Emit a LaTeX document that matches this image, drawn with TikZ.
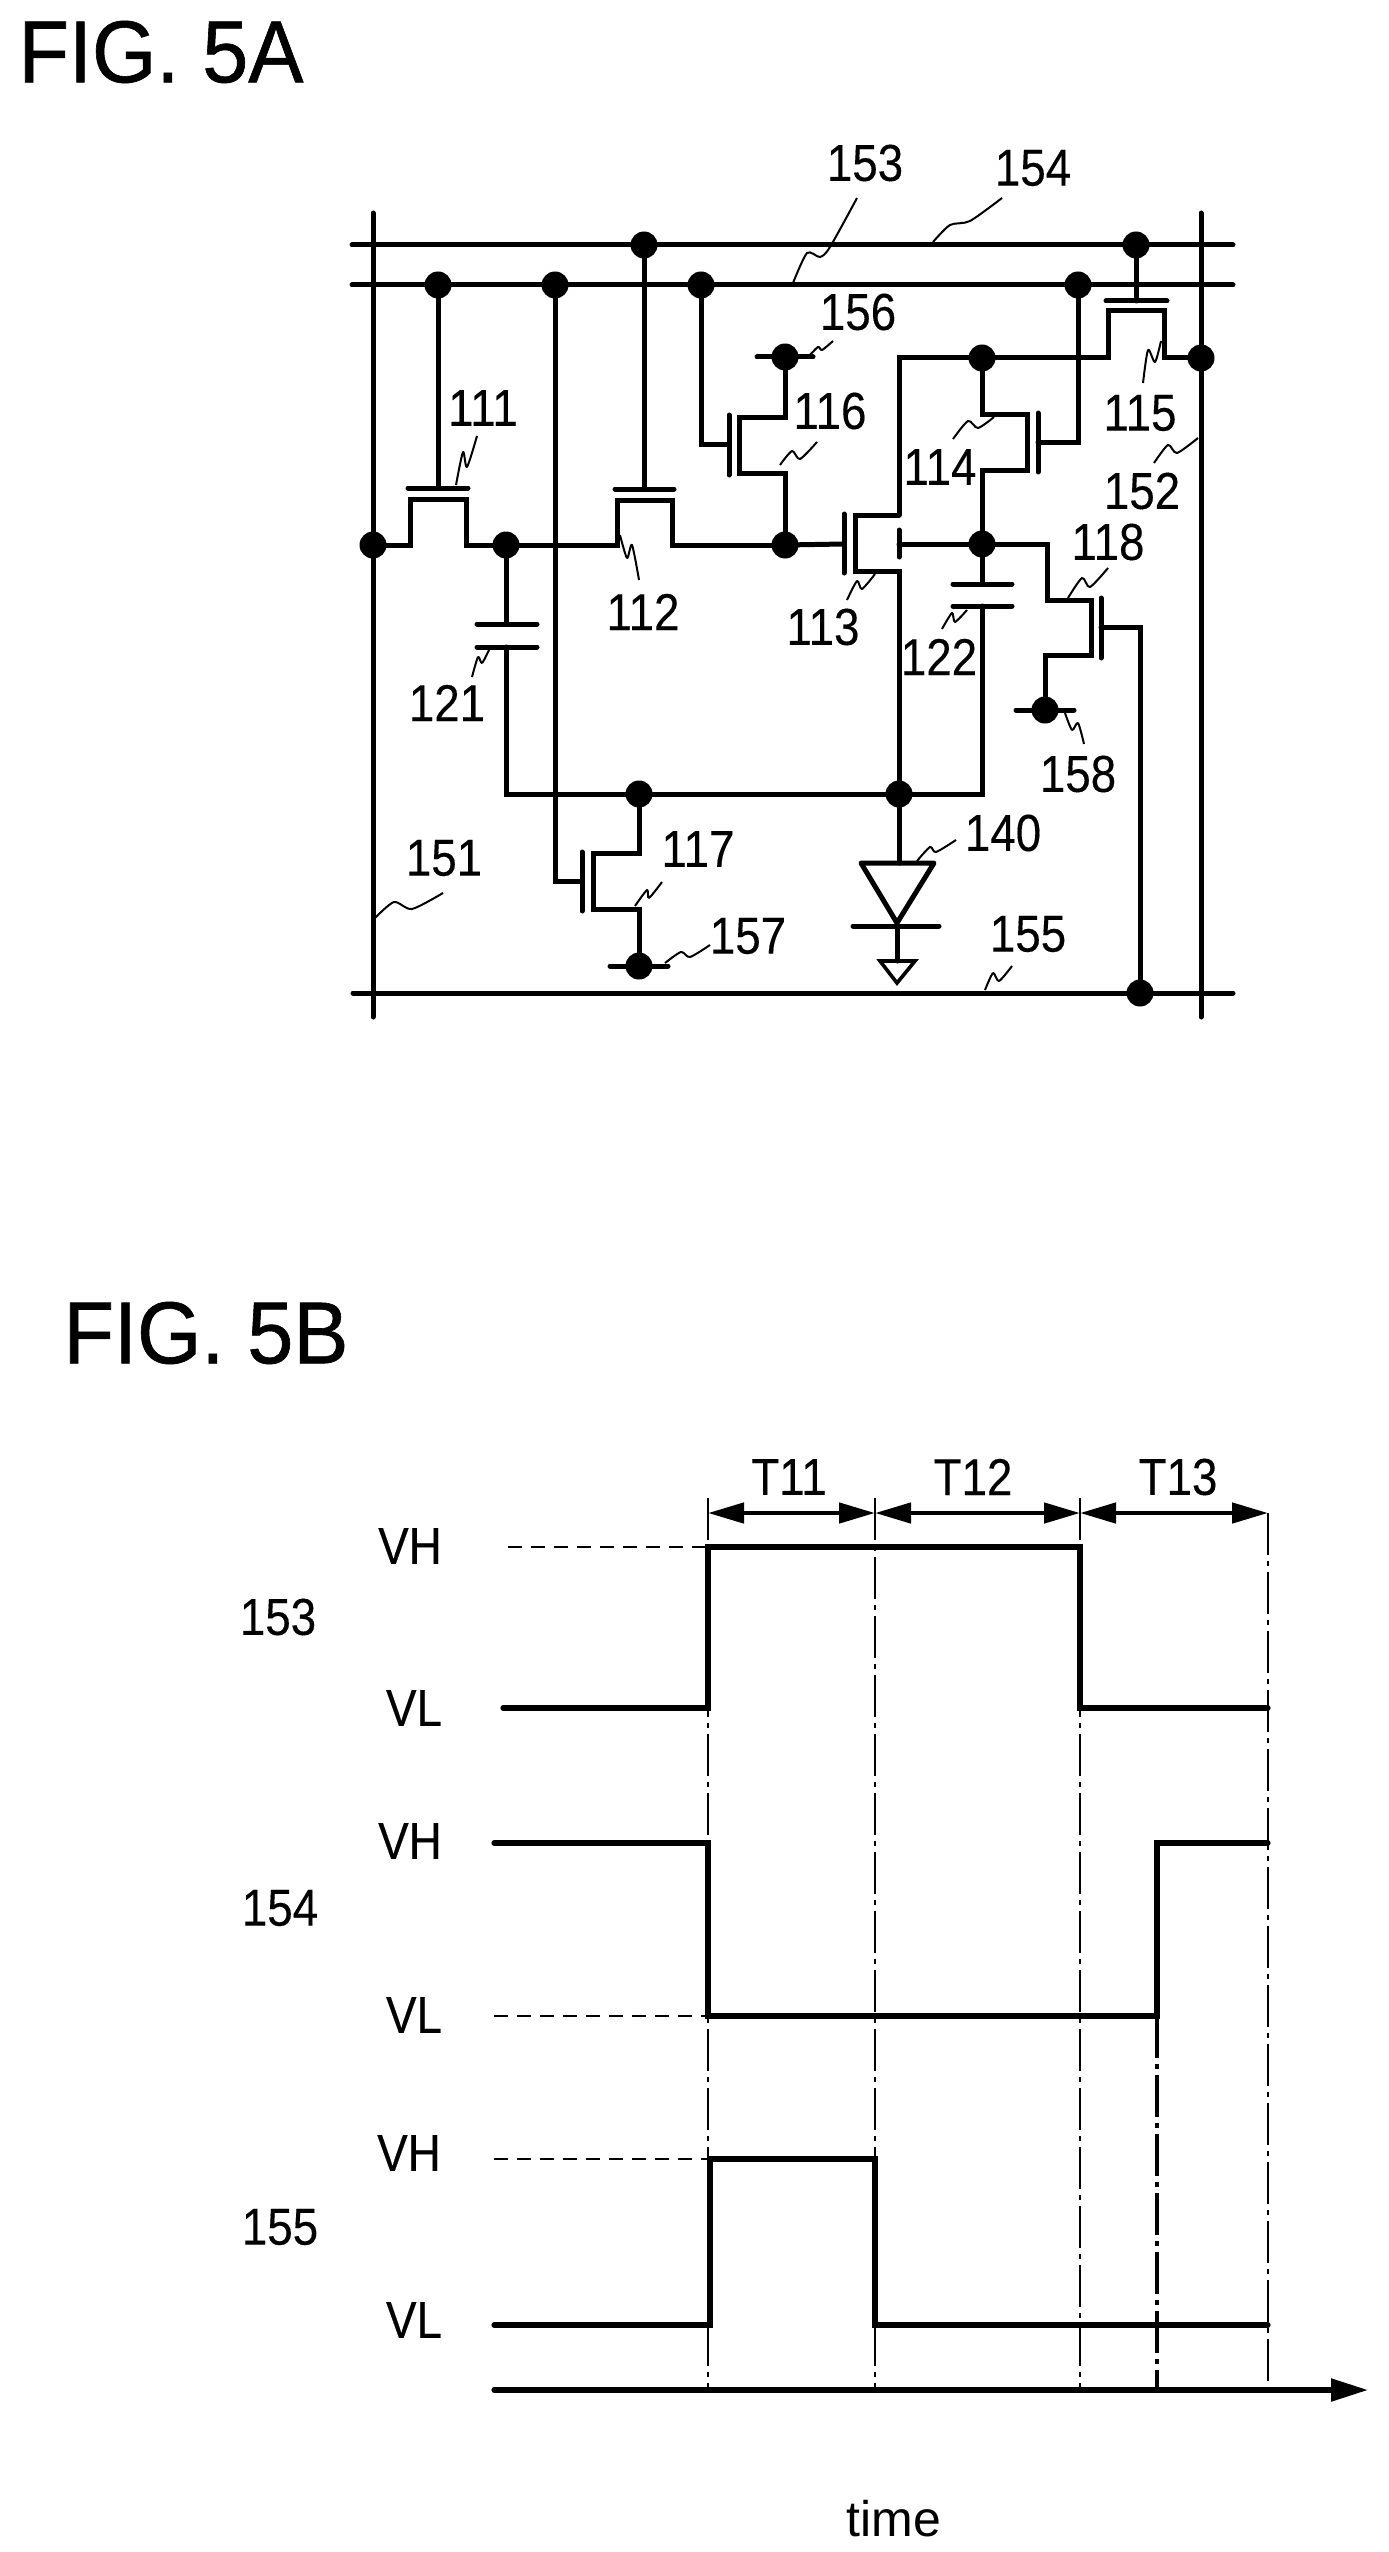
\documentclass[tikz,border=0pt]{standalone}
\usepackage{fontspec}
\setmainfont[FakeStretch=0.88,FakeBold=0.25]{Liberation Sans}
\newfontfamily\plainf{Liberation Sans}
\newfontfamily\titlef[FakeStretch=0.94,FakeBold=0.7]{Liberation Sans}
\usetikzlibrary{arrows.meta}
\tikzset{
  wire/.style={line width=2.5pt,line cap=round,line join=miter,draw=black},
  jn/.style={circle,fill=black,inner sep=0pt,minimum size=13.5pt},
  sq/.style={line width=1pt,draw=black,line join=round},
  lbl/.style={inner sep=0pt,font=\fontsize{26}{26}\selectfont},
  ttl/.style={inner sep=0pt,font=\titlef\fontsize{44}{44}\selectfont},
  tm/.style={inner sep=0pt,font=\plainf\fontsize{25}{25}\selectfont},
  wave/.style={line width=2.6pt,line cap=round,line join=miter,draw=black},
  lev/.style={line width=1.3pt,draw=black,dash pattern=on 7pt off 4.5pt},
  guide/.style={line width=1.3pt,draw=black,dash pattern=on 21pt off 3pt on 2.5pt off 3pt},
  span/.style={line width=2.3pt,draw=black,{Triangle[length=18pt,width=10pt]}-{Triangle[length=18pt,width=10pt]}},
  axis/.style={line width=2.6pt,line cap=round,draw=black,-{Triangle[length=18.5pt,width=11pt]}}
}
\newcommand{\squig}[1]{\draw[sq] plot[smooth,tension=0.45] coordinates {#1};}
\begin{document}
\begin{tikzpicture}[x=0.5pt,y=-0.5pt]
\useasboundingbox (0,0) rectangle (1388,2552);
\fill[white] (0,0) rectangle (1388,2552);
% ---------- FIG 5A: junctions
\node[jn] (dL) at (373,545) {};
\node[jn] (g111) at (438,285) {};
\node[jn] (g117) at (555,285) {};
\node[jn] (g112) at (644,245) {};
\node[jn] (g116) at (701,285) {};
\node[jn] (g114) at (1078,285) {};
\node[jn] (g115) at (1136,245) {};
\node[jn] (n1) at (506,545) {};
\node[jn] (n2) at (785,545) {};
\node[jn] (v156) at (785,357) {};
\node[jn] (n3) at (982,358) {};
\node[jn] (dR) at (1201,358) {};
\node[jn] (n4) at (982,544) {};
\node[jn] (v158) at (1045,710) {};
\node[jn] (n5) at (639,794) {};
\node[jn] (n6) at (899,794) {};
\node[jn] (v157) at (639,966) {};
\node[jn] (g118) at (1140,993) {};
% bus lines
\coordinate (h1a) at (352,245); \coordinate (h1b) at (1233,245);
\coordinate (h2a) at (352,285); \coordinate (h2b) at (1233,285);
\coordinate (h3a) at (353,993); \coordinate (h3b) at (1233,993);
\coordinate (v1a) at (373,213); \coordinate (v1b) at (373,1017);
\coordinate (v2a) at (1201,213); \coordinate (v2b) at (1201,1017);
\draw[wire] (h1a) -- (h1b);
\draw[wire] (h2a) -- (h2b);
\draw[wire] (h3a) -- (h3b);
\draw[wire] (v1a) -- (v1b);
\draw[wire] (v2a) -- (v2b);
% T111
\draw[wire] (g111.center) -- (438,488);
\draw[wire] (408,488) -- (468,488);
\draw[wire] (dL.center) -- (410,545) -- (410,499) -- (466,499) -- (466,545) -- (n1.center);
% T112
\draw[wire] (g112.center) -- (644,489);
\draw[wire] (615,489) -- (674,489);
\draw[wire] (n1.center) -- (617,545) -- (617,500) -- (672,500) -- (672,545) -- (n2.center);
% T116
\draw[wire] (g116.center) -- (701,444) -- (729,444);
\draw[wire] (729,415) -- (729,475);
\draw[wire] (v156.center) -- (785,417) -- (739,417) -- (739,473) -- (785,473) -- (n2.center);
\draw[wire] (757,357) -- (813,357);
% T115
\draw[wire] (g115.center) -- (1136,301);
\draw[wire] (1106,301) -- (1167,301);
\draw[wire] (899,515) -- (899,358) -- (n3.center) -- (1108,358) -- (1108,311) -- (1164,311) -- (1164,358) -- (dR.center);
% T114
\draw[wire] (g114.center) -- (1078,442) -- (1038,442);
\draw[wire] (1038,413) -- (1038,472);
\draw[wire] (n3.center) -- (982,414) -- (1027,414) -- (1027,470) -- (982,470) -- (n4.center);
% T113
\draw[wire] (n2.center) -- (844,544);
\draw[wire] (844,514) -- (844,573);
\draw[wire] (899,515) -- (855,515) -- (855,571) -- (899,571) -- (n6.center);
\draw[wire] (899,530) -- (899,557);
\draw[wire] (899,544) -- (n4.center);
% T118
\draw[wire] (n4.center) -- (1047,544) -- (1047,600) -- (1091,600) -- (1091,655) -- (1045,655) -- (v158.center);
\draw[wire] (1016,710) -- (1074,710);
\draw[wire] (1101,598) -- (1101,658);
\draw[wire] (1101,627) -- (1140,627) -- (g118.center);
% C122, C121
\draw[wire] (n4.center) -- (982,584);
\draw[wire] (953,584) -- (1012,584);
\draw[wire] (953,606) -- (1012,606);
\draw[wire] (982,606) -- (982,794) -- (n6.center) -- (n5.center) -- (506,794) -- (506,647);
\draw[wire] (477,647) -- (537,647);
\draw[wire] (477,624) -- (537,624);
\draw[wire] (n1.center) -- (506,624);
% T117
\draw[wire] (g117.center) -- (555,881) -- (582,881);
\draw[wire] (582,852) -- (582,911);
\draw[wire] (n5.center) -- (639,853) -- (593,853) -- (593,909) -- (639,909) -- (v157.center);
\draw[wire] (610,966) -- (668,966);
% diode and ground
\draw[wire] (n6.center) -- (899,863);
\draw[wire,line join=round] (861,863) -- (934,863) -- (897,923) -- cycle;
\draw[wire] (853,926) -- (939,926);
\draw[wire] (897,926) -- (897,961);
\draw[line width=1.8pt,draw=black,line join=miter] (880,961) -- (915,961) -- (897,983) -- cycle;
% callouts
\squig{(456,485) (463,452) (467,467) (477,436)}
\squig{(620,535) (627,558) (632,545) (639,580)}
\squig{(793,283) (807,253) (820,257) (830,247) (857,198)}
\squig{(933,242) (950,225) (970,221) (1002,198)}
\squig{(808,357) (818,347) (822,350) (833,341)}
\squig{(780,465) (792,451) (800,459) (817,442)}
\squig{(953,439) (968,421) (978,428) (994,417)}
\squig{(1143,383) (1148,350) (1155,362) (1161,341)}
\squig{(1154,463) (1168,445) (1177,453) (1198,438)}
\squig{(1068,598) (1082,578) (1090,587) (1108,568)}
\squig{(847,600) (857,581) (862,589) (875,574)}
\squig{(942,629) (952,613) (955,622) (967,610)}
\squig{(472,677) (478,657) (482,663) (489,650)}
\squig{(1065,713) (1072,730) (1078,723) (1084,744)}
\squig{(917,861) (930,847) (936,852) (956,840)}
\squig{(635,906) (647,890) (649,898) (662,882)}
\squig{(665,963) (681,952) (690,957) (710,945)}
\squig{(375,918) (394,902) (412,909) (443,893)}
\squig{(985,990) (993,973) (999,981) (1012,966)}
% labels 5A
\node[ttl] (figA) at (161,52) {FIG. 5A};
\node[lbl] (t153) at (865,163) {153};
\node[lbl] (t154) at (1033,168) {154};
\node[lbl] (t156) at (858,312) {156};
\node[lbl] (t116) at (830,411) {116};
\node[lbl] (t114) at (940,467) {114};
\node[lbl] (t115) at (1140,413) {115};
\node[lbl] (t152) at (1142,491) {152};
\node[lbl] (t118) at (1108,542) {118};
\node[lbl] (t113) at (823,627) {113};
\node[lbl] (t122) at (939,657) {122};
\node[lbl] (t121) at (447,703) {121};
\node[lbl] (t111) at (483,408) {111};
\node[lbl] (t112) at (643,612) {112};
\node[lbl] (t158) at (1078,774) {158};
\node[lbl] (t140) at (1003,833) {140};
\node[lbl] (t117) at (698,849) {117};
\node[lbl] (t157) at (748,936) {157};
\node[lbl] (t155) at (1028,934) {155};
\node[lbl] (t151) at (444,858) {151};
% ---------- FIG 5B
\node[ttl] (figB) at (206,1333) {FIG. 5B};
\coordinate (a) at (708,1498); \coordinate (b) at (875,1498);
\coordinate (c) at (1080,1498); \coordinate (d) at (1268,1513);
\coordinate (e) at (1157,2016);
\draw[guide] (a) -- (708,2390);
\draw[guide] (b) -- (875,2390);
\draw[guide] (c) -- (1080,2390);
\draw[guide] (d) -- (1268,2390);
\draw[guide,line width=1.6pt] (e) -- (1157,2390);
\coordinate (sa) at (708,1513); \coordinate (sb) at (875,1513);
\coordinate (sc) at (1080,1513); \coordinate (sd) at (1268,1513);
\draw[span] (sa) -- (sb);
\draw[span] (sb) -- (sc);
\draw[span] (sc) -- (sd);
\draw[lev] (508,1547) -- (708,1547);
\draw[lev] (494,2016) -- (708,2016);
\draw[lev] (494,2159) -- (708,2159);
\draw[wave] (503,1708) -- (708,1708) -- (708,1547) -- (1080,1547) -- (1080,1708) -- (1268,1708);
\draw[wave] (494,1843) -- (708,1843) -- (708,2016) -- (1157,2016) -- (1157,1843) -- (1268,1843);
\draw[wave] (494,2325) -- (710,2325) -- (710,2159) -- (875,2159) -- (875,2325) -- (1268,2325);
\coordinate (ax0) at (494,2390); \coordinate (ax1) at (1368,2390);
\draw[axis] (ax0) -- (ax1);
\node[lbl] (T11) at (789,1477) {T11};
\node[lbl] (T12) at (973,1477) {T12};
\node[lbl] (T13) at (1178,1477) {T13};
\node[lbl] (vh1) at (410,1546) {VH};
\node[lbl] (vl1) at (414,1708) {VL};
\node[lbl] (vh2) at (410,1841) {VH};
\node[lbl] (vl2) at (414,2015) {VL};
\node[lbl] (vh3) at (409,2153) {VH};
\node[lbl] (vl3) at (414,2320) {VL};
\node[lbl] (s153) at (278,1617) {153};
\node[lbl] (s154) at (280,1908) {154};
\node[lbl] (s155) at (280,2227) {155};
\node[tm] (time) at (894,2519) {time};
\end{tikzpicture}
\end{document}
